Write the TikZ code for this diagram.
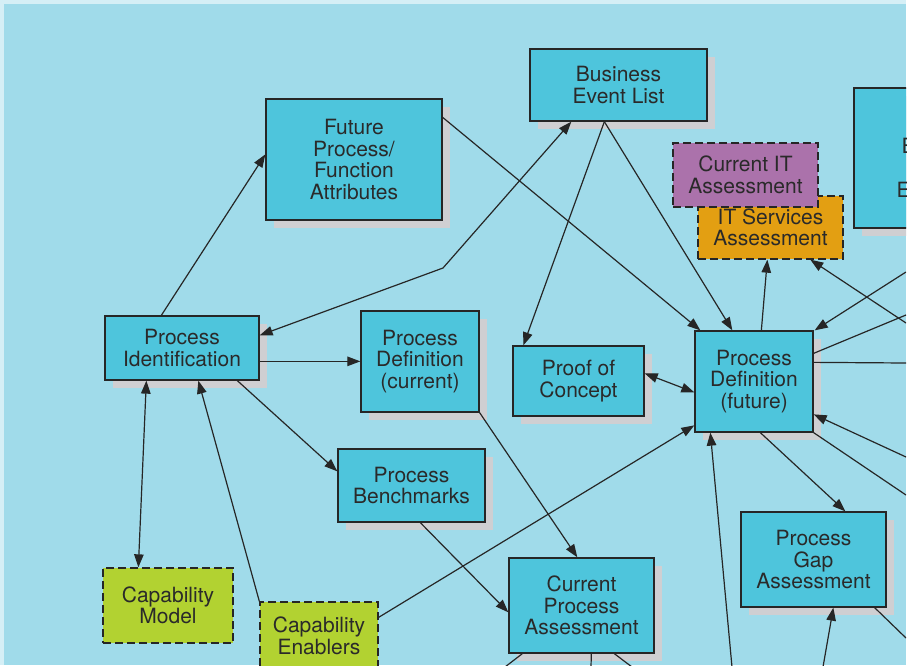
\documentclass[tikz,border=0pt]{standalone}
\usepackage{fontspec}
\setmainfont{TeX Gyre Heros}
\usetikzlibrary{calc,arrows.meta}
\definecolor{bgc}{HTML}{A0DBEA}
\definecolor{stripc}{HTML}{D5EFF6}
\definecolor{boxfill}{HTML}{4EC5DC}
\definecolor{shadowc}{HTML}{CFCFD2}
\definecolor{linec}{HTML}{262626}
\definecolor{txtc}{HTML}{2A2A2A}
\definecolor{purplec}{HTML}{AB72AB}
\definecolor{orangec}{HTML}{E39F12}
\definecolor{greenc}{HTML}{B2D231}
\newcommand{\fs}{\fontsize{21}{21.5}\selectfont}
\tikzset{
  pbx/.style={draw=linec, line width=1.3pt, fill=boxfill, align=center, inner sep=0pt, font=\fs, text=txtc},
  dbx/.style={pbx, dash pattern=on 8pt off 4pt},
  conn/.style={draw=linec, line width=1.2pt},
  arr/.style={conn, -{Triangle[length=13pt,width=9.5pt]}},
  darr/.style={conn, {Triangle[length=13pt,width=9.5pt]}-{Triangle[length=13pt,width=9.5pt]}},
}
\newcommand{\pbox}[7]{%
  \fill[shadowc] ({#3+8},{#4+8}) rectangle ({#5+8},{#6+8});
  \node[#1, minimum width={#5-#3}, minimum height={#6-#4}] (#2) at ({(#3+#5)/2},{(#4+#6)/2}) {#7};
}
\newcommand{\nbox}[7]{%
  \node[#1, minimum width={#5-#3}, minimum height={#6-#4}] (#2) at ({(#3+#5)/2},{(#4+#6)/2}) {#7};
}
\begin{document}
\begin{tikzpicture}[x=1pt,y=-1pt]
\useasboundingbox (0,0) rectangle (914,665);
\fill[white] (0,0) rectangle (914,665);
\fill[stripc] (0,0) rectangle (906,665);
\fill[bgc] (4,4) rectangle (906,665);
\begin{scope}
\clip (0,0) rectangle (906,665);
% boxes
\pbox{pbx}{bel}{530}{49}{707}{121}{Business\\Event List}
\pbox{pbx}{fut}{266}{99}{442}{220}{Future\\Process/\\Function\\Attributes}
\pbox{pbx}{pi}{105}{316}{259}{380}{Process\\Identification}
\pbox{pbx}{pdc}{361}{311}{479}{412}{Process\\Definition\\(current)}
\pbox{pbx}{pb}{338}{449}{485}{522}{Process\\Benchmarks}
\nbox{dbx,fill=greenc}{cm}{103}{568}{233}{643}{Capability\\Model}
\nbox{dbx,fill=greenc}{ce}{260}{602}{378}{670}{Capability\\Enablers}
\pbox{pbx}{poc}{513}{346}{644}{416}{Proof of\\Concept}
\pbox{pbx}{pdf}{695}{331}{813}{432}{Process\\Definition\\(future)}
\pbox{pbx}{cpa}{509}{558}{654}{653}{Current\\Process\\Assessment}
\pbox{pbx}{pg}{741}{512}{886}{607}{Process\\Gap\\Assessment}
\nbox{dbx,fill=orangec}{its}{698}{196}{843}{259}{IT Services\\Assessment}
\nbox{dbx,fill=purplec}{cit}{673}{143}{818}{207}{Current IT\\Assessment}
\pbox{pbx}{rb}{854}{88}{980}{228}{}
\node[anchor=base west, font=\fs, text=txtc, inner sep=0pt] (rbe1) at (901.5,153) {E};
\node[anchor=base west, font=\fs, text=txtc, inner sep=0pt] (rbe2) at (896.5,197) {E};
% off-page ends
\coordinate (cbend) at (443,268);
\coordinate (r1) at (906,323);
\coordinate (r2) at (906,272);
\coordinate (r3) at (906,315);
\coordinate (r4) at (906,363);
\coordinate (r5) at (906,457);
\coordinate (r6) at (906,495);
\coordinate (r7) at (906,638);
\coordinate (b1) at (732,667);
\coordinate (b2) at (823,667);
\coordinate (b3) at (505,667);
\coordinate (b4) at (591,667);
\coordinate (b5) at (632,667);
% connectors
\draw[arr] ($(pi.north west)+(57,0)$) -- ($(fut.north west)+(0,56)$);
\draw[arr] ($(fut.north east)+(0,19)$) -- ($(pdf.north west)+(6,0)$);
\draw[darr] ($(pi.north east)+(0,20)$) -- (cbend) -- ($(bel.south west)+(42,0)$);
\draw[arr] ($(bel.south west)+(75,0)$) -- ($(poc.north west)+(11,0)$);
\draw[arr] ($(bel.south west)+(75,0)$) -- ($(pdf.north west)+(38,0)$);
\draw[arr] ($(pdf.north west)+(67,0)$) -- ($(its.south west)+(70,0)$);
\draw[arr] (r1) -- ($(its.south west)+(113,0)$);
\draw[arr] (r2) -- ($(pdf.north east)+(1,0)$);
\draw[conn] ($(pdf.north east)+(0,23)$) -- (r3);
\draw[conn] ($(pdf.north east)+(0,32)$) -- (r4);
\draw[arr] (r5) -- ($(pdf.north east)+(0,84)$);
\draw[conn] (pdf.south east) -- (r6);
\draw[arr] ($(pdf.south west)+(66,0)$) -- ($(pg.north west)+(105,0)$);
\draw[conn] ($(pg.south east)+(-12,0)$) -- (r7);
\draw[arr] (b1) -- ($(pdf.south west)+(16,0)$);
\draw[arr] (b2) -- ($(pg.south west)+(93,0)$);
\draw[darr] ($(poc.north east)+(0,28)$) -- ($(pdf.north west)+(0,62)$);
\draw[arr] ($(ce.north east)+(0,16)$) -- ($(pdf.north west)+(0,95)$);
\draw[arr] (pdc.south east) -- ($(cpa.north west)+(69,0)$);
\draw[arr] ($(pb.south west)+(83,0)$) -- ($(cpa.north west)+(0,55)$);
\draw[arr] ($(pi.north east)+(0,46)$) -- ($(pdc.north west)+(0,51)$);
\draw[arr] ($(pi.south west)+(133,0)$) -- ($(pb.north west)+(0,23)$);
\draw[darr] ($(pi.south west)+(42,0)$) -- ($(cm.north west)+(36,0)$);
\draw[arr] (ce.north west) -- ($(pi.south west)+(94,0)$);
\draw[conn] ($(cpa.south west)+(14,0)$) -- (b3);
\draw[conn] ($(cpa.south west)+(83,0)$) -- (b4);
\draw[conn] ($(cpa.south west)+(106,0)$) -- (b5);
\end{scope}
\end{tikzpicture}
\end{document}
